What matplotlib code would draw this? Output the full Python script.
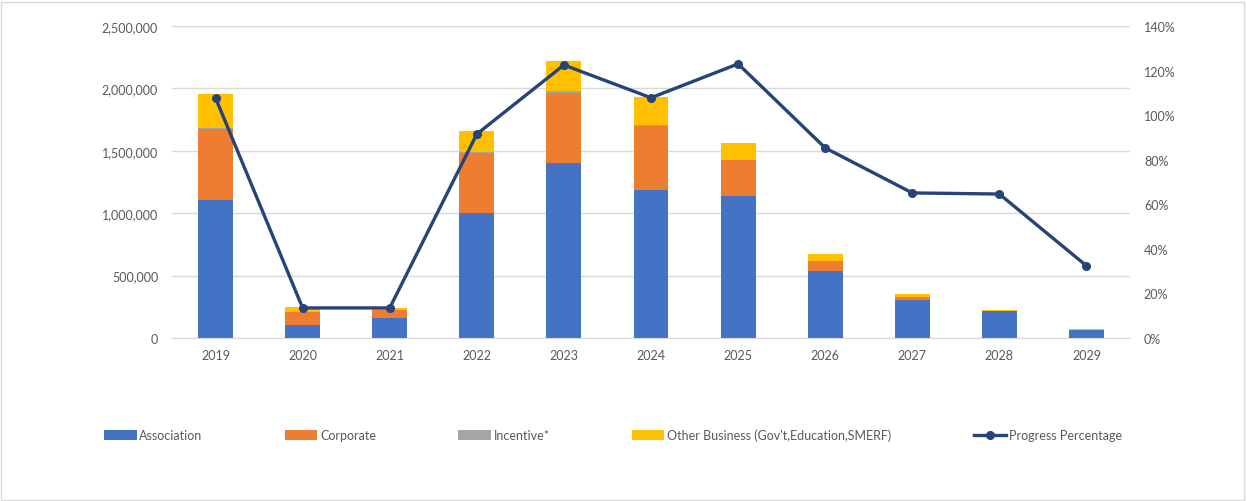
import matplotlib
matplotlib.use("Agg")
import matplotlib.pyplot as plt
from matplotlib.ticker import FuncFormatter, MultipleLocator
from matplotlib.lines import Line2D
from matplotlib.patches import Patch, Rectangle
import numpy as np

years = ["2019", "2020", "2021", "2022", "2023", "2024", "2025", "2026", "2027", "2028", "2029"]
association = [1104000, 101000, 162000, 1002000, 1402000, 1183000, 1138000, 539000, 302000, 214000, 62000]
corporate = [568000, 107000, 59000, 480000, 565000, 518000, 291000, 76000, 29000, 0, 0]
incentive = [9000, 0, 0, 9000, 9000, 8000, 0, 0, 0, 0, 0]
other_business = [271000, 40000, 21000, 165000, 241000, 222000, 133000, 58000, 19000, 9000, 10000]
progress_pct = [107.7, 13.5, 13.5, 91.5, 122.5, 107.8, 123.0, 85.3, 65.1, 64.6, 32.4]

labels = ["Association", "Corporate", "Incentive*",
          "Other Business (Gov't,Education,SMERF)", "Progress Percentage"]
colors = ["#4472C4", "#ED7D31", "#A5A5A5", "#FFC000"]
line_color = "#264478"
text_color = "#595959"
grid_color = "#D9D9D9"

plt.rcParams['font.family'] = ['Lato', 'DejaVu Sans']

fig = plt.figure(figsize=(12.47, 5.02), dpi=100)
ax = fig.add_axes([172/1247, 1 - 339/502, 958/1247, 312/502])

x = np.arange(len(years))
bottom = np.zeros(len(years))
series = [association, corporate, incentive, other_business]
for vals, c in zip(series, colors):
    ax.bar(x, vals, width=0.4, bottom=bottom, color=c, linewidth=0, zorder=2)
    bottom += np.array(vals)

ax.set_xlim(-0.5, len(years) - 0.5)
ax.set_ylim(0, 2500000)
ax.yaxis.set_major_locator(MultipleLocator(500000))
ax.yaxis.set_major_formatter(FuncFormatter(lambda v, p: f"{int(v):,}"))
ax.set_xticks(x)
ax.set_xticklabels(years)
ax.grid(axis="y", color=grid_color, linewidth=1, zorder=0)
ax.set_axisbelow(True)
for s in ax.spines.values():
    s.set_visible(False)
ax.spines["bottom"].set_visible(True)
ax.spines["bottom"].set_color(grid_color)
ax.tick_params(axis="both", length=0, labelsize=9, colors=text_color)
ax.tick_params(axis="y", pad=10)
ax.tick_params(axis="x", pad=8)

ax2 = ax.twinx()
ax2.plot(x, progress_pct, color=line_color, linewidth=2.4, marker="o", markersize=5.5, zorder=5)
ax2.set_ylim(0, 140)
ax2.yaxis.set_major_locator(MultipleLocator(20))
ax2.yaxis.set_major_formatter(FuncFormatter(lambda v, p: f"{int(round(v))}%"))
for s in ax2.spines.values():
    s.set_visible(False)
ax2.tick_params(axis="y", length=0, labelsize=9, colors=text_color, pad=10)

handles = [Patch(facecolor=c, edgecolor="none") for c in colors]
handles.append(Line2D([0], [0], color=line_color, linewidth=2.4, marker="o", markersize=5.5))
leg = fig.legend(handles, labels, loc="center", bbox_to_anchor=(613/1247, 1 - 436/502),
                 ncol=5, frameon=False, fontsize=9, handlelength=2.6, handleheight=0.8,
                 handletextpad=0.2, columnspacing=6.6, labelcolor=text_color)

fig.patches.append(Rectangle((1/1247, 1/502), 1 - 4/1247, 1 - 4/502, transform=fig.transFigure,
                             fill=False, edgecolor="#D9D9D9", linewidth=1))

fig.savefig("out.png", dpi=100)
